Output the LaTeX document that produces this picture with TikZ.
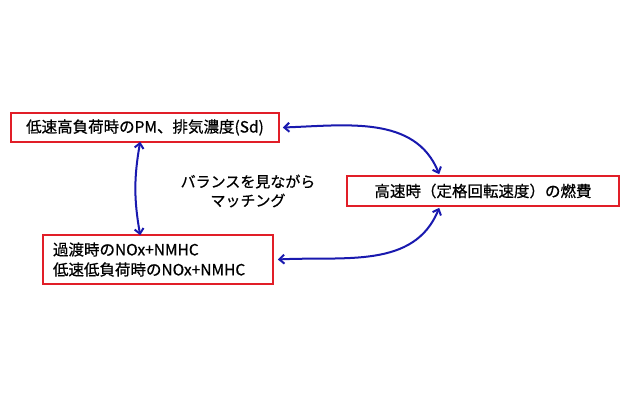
\documentclass[tikz,border=0pt]{standalone}
\usepackage{fontspec}
\setmainfont{Noto Sans CJK JP}[FakeBold=0.7]
\usetikzlibrary{arrows.meta,calc}
\definecolor{boxred}{RGB}{225,30,40}
\definecolor{arrblue}{RGB}{25,25,175}
\begin{document}
\begin{tikzpicture}[x=1pt,y=-1pt,
  stagebox/.style={draw=boxred,line width=1.6pt,inner sep=0pt,font=\fontsize{15.5}{20}\selectfont},
  link/.style={draw=arrblue,line width=2pt,{Straight Barb[length=5pt,width=9pt]}-{Straight Barb[length=5pt,width=9pt]}}]
\useasboundingbox[fill=white] (0,0) rectangle (630,400);
\node[stagebox,minimum width=268pt,minimum height=29pt] (b1) at (145,127.5) {低速高負荷時のPM、排気濃度(Sd)};
\node[stagebox,minimum width=230pt,minimum height=49pt,align=left,text width=210pt] (b2) at (158,259.5) {過渡時のNOx+NMHC\\低速低負荷時のNOx+NMHC};
\node[stagebox,minimum width=272pt,minimum height=30pt] (b3) at (483,191) {高速時（定格回転速度）の燃費};
\node[font=\fontsize{15}{19}\selectfont,align=center] (m) at (248,191) {バランスを見ながら\\マッチング};
\coordinate (b3t) at ([xshift=93pt,yshift=1pt]b3.north west);
\coordinate (b3b) at ([xshift=93pt,yshift=-1pt]b3.south west);
\coordinate (b1b) at ([xshift=130pt,yshift=1pt]b1.south west);
\coordinate (b2t) at ([xshift=98pt,yshift=-1pt]b2.north west);
\draw[link] ([xshift=3pt]b1.east) to[out=2,in=112] (b3t);
\draw[link] (b3b) to[out=-112,in=3] ([xshift=4pt]b2.east);
\draw[link] (b1b) to[out=-100,in=100] (b2t);
\end{tikzpicture}
\end{document}
